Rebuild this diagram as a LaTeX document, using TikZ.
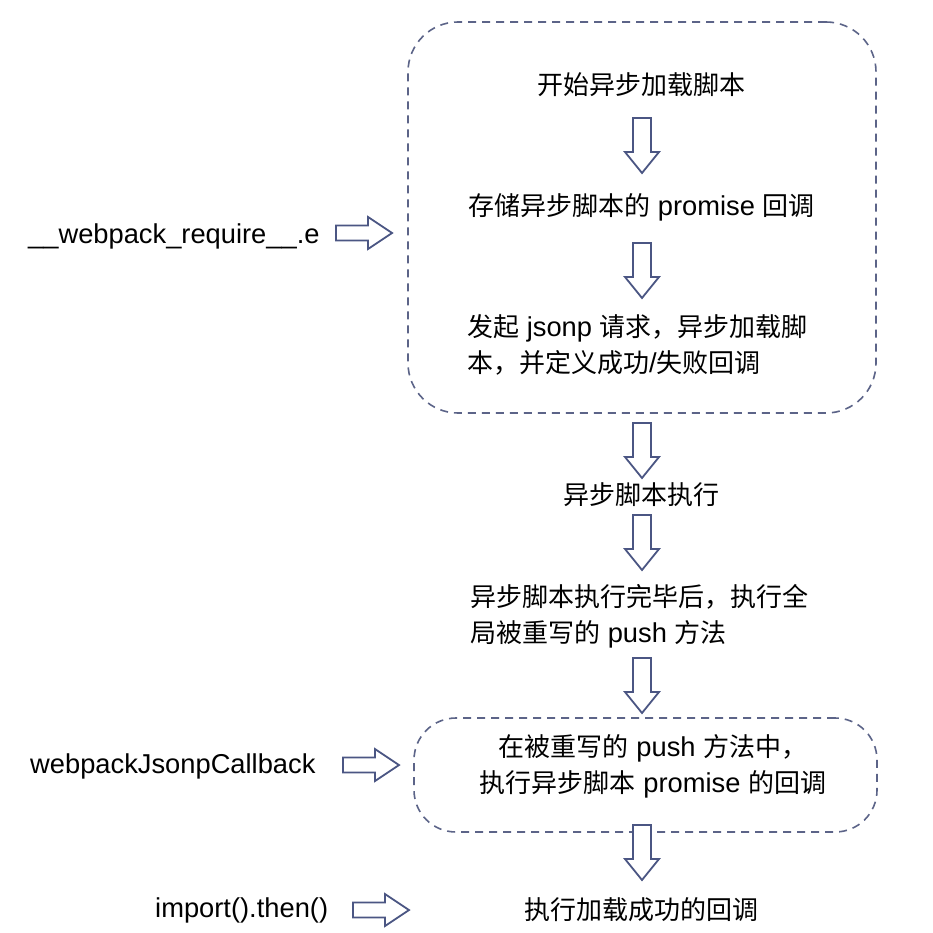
\documentclass[tikz,border=0pt]{standalone}
\usepackage{fontspec}
\setmainfont{Liberation Sans}[Scale=1.05]
\newfontfamily\cjk{Noto Sans CJK SC}
\definecolor{framecol}{HTML}{5C6488}
\definecolor{arrowcol}{HTML}{4B5683}
\begin{document}
\begin{tikzpicture}[x=1pt,y=-1pt,
  frame/.style={draw=framecol, line width=1.6pt, dash pattern=on 8pt off 6pt},
  label/.style={inner sep=0pt, text=black, font=\fontsize{26}{36}\selectfont},
  hollow/.style={draw=arrowcol, line width=1.8pt, fill=white, line join=miter},
  downarrow/.pic={\draw[hollow] (-9,0) -- (9,0) -- (9,34) -- (17,34) -- (0,55) -- (-17,34) -- (-9,34) -- cycle;},
  rightarrow/.pic={\draw[hollow] (0,-7.5) -- (32,-7.5) -- (32,-16) -- (56,0) -- (32,16) -- (32,7.5) -- (0,7.5) -- cycle;}]
\useasboundingbox[fill=white] (0,0) rectangle (933,933);

% dashed groups
\node[frame, rounded corners=50pt, minimum width=468pt, minimum height=391pt] (outer) at (642,217.5) {};
\node[frame, rounded corners=42pt, minimum width=463pt, minimum height=114pt] (inner) at (645.5,775) {};

% steps
\node[label] (s1) at (641,85) {\cjk 开始异步加载脚本};
\node[label] (s2) at (641.5,207) {{\cjk 存储异步脚本的} promise {\cjk 回调}};
\node[label, anchor=west, align=left] (s3) at (467,345) {{\cjk 发起} jsonp {\cjk 请求，异步加载脚}\\{\cjk 本，并定义成功}/{\cjk 失败回调}};
\node[label] (s4) at (641,495) {\cjk 异步脚本执行};
\node[label, anchor=west, align=left] (s5) at (470,616.5) {{\cjk 异步脚本执行完毕后，执行全}\\{\cjk 局被重写的} push {\cjk 方法}};
\node[label, align=center] (s6) at (653,766) {{\cjk 在被重写的} push {\cjk 方法中，}\\{\cjk 执行异步脚本} promise {\cjk 的回调}};
\node[label] (s7) at (641,910) {\cjk 执行加载成功的回调};

% entry points
\node[label, anchor=west] (e1) at (28,236) {\_\_webpack\_require\_\_.e};
\node[label, anchor=west] (e2) at (30,766) {webpackJsonpCallback};
\node[label, anchor=west] (e3) at (155,910) {import().then()};

% flow arrows
\pic at (642,118) {downarrow};
\pic at (642,243) {downarrow};
\pic at (642,423) {downarrow};
\pic at (642,515) {downarrow};
\pic at (642,658) {downarrow};
\pic at (642,825) {downarrow};
\pic at (336,233) {rightarrow};
\pic at (343,765) {rightarrow};
\pic at (353,910) {rightarrow};
\end{tikzpicture}
\end{document}
